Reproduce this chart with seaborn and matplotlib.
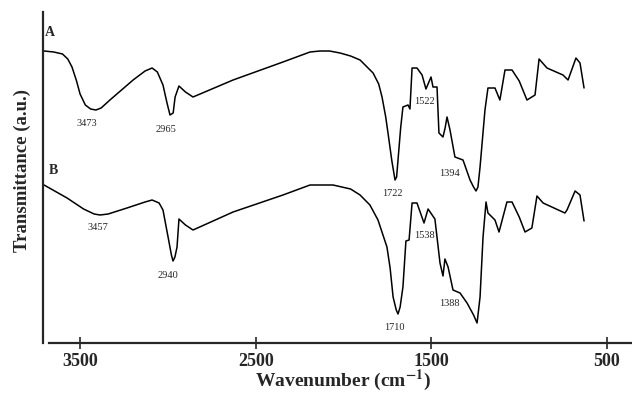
import numpy as np
import pandas as pd
import matplotlib
matplotlib.use("Agg")
import matplotlib.pyplot as plt
import seaborn as sns

# --- spectrum A (wavenumber, transmittance a.u.) ---
wn_a = [3705, 3650, 3600, 3570, 3546, 3520, 3500, 3470, 3440, 3410, 3380, 3330,
        3198, 3130, 3090, 3060, 3028, 3005, 2988, 2970, 2959, 2937, 2900, 2857,
        2629, 2345, 2191, 2134, 2080, 2020, 1960, 1906, 1832, 1800, 1781, 1760,
        1747, 1725, 1707, 1698, 1690, 1675, 1662, 1633, 1622, 1610, 1582, 1553,
        1531, 1502, 1491, 1468, 1457, 1434, 1422, 1411, 1394, 1366, 1320, 1280,
        1260, 1246, 1235, 1223, 1195, 1178, 1138, 1110, 1081, 1041, 1000, 956,
        910, 887, 842, 751, 722, 677, 654, 631]
tr_a = [292, 291, 289, 284, 276, 262, 249, 238, 234, 233, 235, 243,
        263, 272, 275, 271, 258, 240, 228, 230, 246, 257, 251, 246,
        263, 281, 291, 292, 292, 290, 287, 283, 270, 259, 246, 226,
        210, 182, 163, 166, 183, 215, 236, 238, 234, 275, 275, 268,
        254, 266, 256, 256, 210, 206, 215, 226, 213, 186, 183, 163,
        156, 152, 156, 176, 233, 255, 255, 243, 273, 273, 262, 243,
        248, 284, 275, 268, 263, 285, 280, 255]

# --- spectrum B ---
wn_b = [3705, 3574, 3480, 3420, 3386, 3340, 3233, 3130, 3090, 3050, 3028, 2999,
        2980, 2971, 2960, 2948, 2937, 2900, 2857, 2629, 2345, 2191, 2060, 1960,
        1906, 1850, 1804, 1753, 1735, 1718, 1700, 1690, 1678, 1662, 1645, 1627,
        1610, 1582, 1542, 1519, 1480, 1451, 1434, 1423, 1405, 1377, 1337, 1297,
        1260, 1240, 1223, 1206, 1189, 1178, 1138, 1115, 1070, 1041, 1000, 967,
        928, 899, 864, 740, 728, 682, 654, 631]
tr_b = [158, 145, 134, 129, 128, 129, 135, 141, 143, 140, 133, 106,
        88, 82, 86, 96, 124, 118, 113, 131, 148, 158, 158, 154,
        148, 138, 123, 96, 75, 46, 33, 29, 36, 56, 102, 103,
        140, 140, 120, 134, 124, 80, 67, 84, 76, 53, 50, 40,
        28, 20, 46, 106, 141, 130, 123, 111, 141, 141, 126, 111,
        115, 147, 140, 130, 133, 152, 148, 122]

# peak annotations: text, x, y
peaks_a = [("3473", 3460, 220), ("2965", 3010, 214), ("1722", 1724, 150),
           ("1522", 1542, 242), ("1394", 1394, 170)]
peaks_b = [("3457", 3398, 116), ("2940", 3000, 68), ("1710", 1713, 16),
           ("1538", 1542, 107), ("1388", 1399, 40)]

sns.set_style("ticks")
plt.rcParams["font.family"] = ["Liberation Serif", "DejaVu Serif"]
plt.rcParams["mathtext.fontset"] = "stix"

df_a = pd.DataFrame({"wn": wn_a, "tr": tr_a})
df_b = pd.DataFrame({"wn": wn_b, "tr": tr_b})

fig = plt.figure(figsize=(6.32, 3.96), dpi=100)
ax = fig.add_axes([43 / 632, 1 - 343 / 396, 589 / 632, 331 / 396])

for d in (df_a, df_b):
    sns.lineplot(data=d, x="wn", y="tr", color="black", lw=1.1,
                 estimator=None, sort=False, ax=ax,
                 solid_joinstyle="round")

for txt, x, y in peaks_a + peaks_b:
    ax.text(x, y, txt, fontsize=7.5, ha="center", va="center")

ax.text(3671, 310, "A", fontsize=10, fontweight="bold", ha="center", va="center")
ax.text(3654, 173, "B", fontsize=10, fontweight="bold", ha="center", va="center")

ax.set_xlim(3711, 358)
ax.set_ylim(0, 331)
ax.set_xticks([3500, 2500, 1500, 500])
ax.set_yticks([])
ax.tick_params(axis="x", direction="inout", length=9, width=1.2,
               labelsize=13, pad=3)
for lab in ax.get_xticklabels():
    lab.set_fontweight("bold")

sns.despine(ax=ax)
ax.spines["left"].set_linewidth(1.6)
ax.spines["bottom"].set_linewidth(1.6)
ax.spines["bottom"].set_bounds(358, 3676)

ax.set_xlabel(r"Wavenumber (cm$^{\mathbf{-1}}$)", fontsize=14, fontweight="bold")
ax.set_ylabel("Transmittance (a.u.)", fontsize=13.5, fontweight="bold")
ax.xaxis.set_label_coords(0.51, -0.075)
ax.yaxis.set_label_coords(-0.02, 0.52)

fig.savefig("out.png", dpi=100)
